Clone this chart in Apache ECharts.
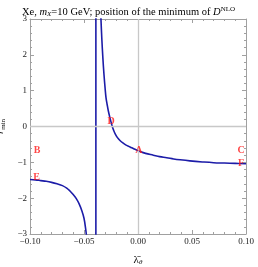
<!DOCTYPE html>
<html><head><meta charset="utf-8">
<script src="https://cdn.jsdelivr.net/npm/echarts@6/dist/echarts.min.js"></script>
<style>html,body{margin:0;padding:0;background:#fff}#c{width:258px;height:267px}</style>
</head><body><div id="c"></div>
<script>
// Left branch (lambda, r_min)
const leftLam = [-0.100, -0.095, -0.090, -0.085, -0.080, -0.075, -0.070, -0.066, -0.063, -0.060, -0.057, -0.0545, -0.052, -0.050, -0.0485, -0.047, -0.0455];
const leftR   = [-1.48, -1.49, -1.51, -1.53, -1.56, -1.60, -1.65, -1.72, -1.80, -1.90, -2.02, -2.16, -2.35, -2.56, -2.85, -3.25, -3.90];
// Right branch
const rightLam = [-0.0352, -0.0343, -0.0335, -0.0325, -0.0315, -0.0305, -0.0296, -0.0285, -0.0275, -0.0262, -0.0250, -0.0238, -0.0225, -0.0210, -0.0190, -0.0167, -0.0140, -0.0110, -0.0074, -0.0040, 0.0000, 0.0070, 0.0142, 0.0200, 0.0266, 0.0330, 0.0390, 0.0480, 0.0600, 0.0700, 0.0800, 0.0900, 0.1000];
const rightR   = [3.70, 3.00, 2.45, 1.90, 1.45, 1.08, 0.80, 0.60, 0.44, 0.27, 0.13, 0.00, -0.11, -0.21, -0.31, -0.39, -0.46, -0.52, -0.57, -0.62, -0.675, -0.75, -0.80, -0.84, -0.87, -0.905, -0.93, -0.96, -0.99, -1.01, -1.02, -1.03, -1.04];
// Vertical jump across the pole
const poleLam = [-0.039, -0.039];
const poleR = [-3.5, 3.5];
// Point labels
const ptNames = ['A', 'B', 'C', 'D', 'E', 'F'];
const ptLam = [0.0008, -0.0935, 0.0955, -0.0250, -0.0940, 0.0955];
const ptR = [-0.68, -0.68, -0.68, 0.15, -1.42, -1.02];
// Ticks
const xTicks = [-0.10, -0.05, 0.00, 0.05, 0.10];
const yTicks = [-3, -2, -1, 0, 1, 2, 3];

const zip = (a, b) => a.map((v, i) => [v, b[i]]);
const fmtMinus = s => s.replace('-', '\u2212');
const serif = 'Liberation Serif';
const frameCol = '#a0a0a0';
const blue = '#1c1ca8';

const chart = echarts.init(document.getElementById('c'), null, {renderer: 'canvas'});
const axisCommon = {
  axisLine: {show: true, onZero: false, lineStyle: {color: frameCol, width: 1}},
  axisTick: {show: true, inside: true, length: 4, lineStyle: {color: frameCol}},
  minorTick: {show: true, splitNumber: 5, length: 2, lineStyle: {color: frameCol}},
  splitLine: {show: false},
};
chart.setOption({
  animation: false,
  title: {
    text: '{n|Xe, }{i|m}{sub|X}{n|=10 GeV; position of the minimum of }{i|D}{sup|NLO}',
    left: 17, top: 1,
    textStyle: {
      fontWeight: 'normal',
      rich: {
        n: {fontFamily: serif, fontSize: 10.5, fontWeight: 'normal', color: '#000', lineHeight: 12},
        i: {fontFamily: serif, fontSize: 10.5, fontWeight: 'normal', fontStyle: 'italic', color: '#000', lineHeight: 12},
        sub: {fontFamily: serif, fontSize: 7, fontWeight: 'normal', fontStyle: 'italic', color: '#000', lineHeight: 6, verticalAlign: 'bottom'},
        sup: {fontFamily: serif, fontSize: 7, fontWeight: 'normal', color: '#000', lineHeight: 6, verticalAlign: 'top'}
      }
    }
  },
  grid: {left: 30, right: 12, top: 19, bottom: 33, containLabel: false, outerBoundsMode: 'none'},
  xAxis: [
    Object.assign({
      type: 'value', min: -0.1, max: 0.1, interval: 0.05, position: 'bottom',
      axisLabel: {fontFamily: serif, fontSize: 9, color: '#222', margin: 3,
        formatter: v => fmtMinus(v.toFixed(2))},
      name: '{b|\u03BB\u0304}{s|\u03B8}', nameLocation: 'middle', nameGap: 20,
      nameTextStyle: {rich: {
        b: {fontFamily: serif, fontSize: 11, color: '#000', lineHeight: 12},
        s: {fontFamily: serif, fontSize: 7, fontStyle: 'italic', color: '#000', lineHeight: 6, verticalAlign: 'bottom'}
      }}
    }, axisCommon),
    Object.assign({
      type: 'value', min: -0.1, max: 0.1, interval: 0.05, position: 'top',
      axisLabel: {show: false}
    }, axisCommon)
  ],
  yAxis: [
    Object.assign({
      type: 'value', min: -3, max: 3, interval: 1, position: 'left',
      axisLabel: {fontFamily: serif, fontSize: 9, color: '#222', margin: 3,
        formatter: v => fmtMinus(String(v))},
      name: '{i|r}{s|min}', nameLocation: 'middle', nameGap: 19, nameRotate: 90,
      nameTextStyle: {rich: {
        i: {fontFamily: serif, fontSize: 11, fontStyle: 'italic', color: '#000', lineHeight: 12},
        s: {fontFamily: serif, fontSize: 7, color: '#000', lineHeight: 6, verticalAlign: 'bottom'}
      }}
    }, axisCommon),
    Object.assign({
      type: 'value', min: -3, max: 3, interval: 1, position: 'right',
      axisLabel: {show: false}
    }, axisCommon)
  ],
  series: [
    {
      type: 'line', data: zip(leftLam, leftR), showSymbol: false, smooth: 0.4,
      lineStyle: {color: blue, width: 1.6}, clip: true, z: 3,
      markLine: {
        silent: true, symbol: 'none', label: {show: false},
        lineStyle: {color: '#c8c8c8', width: 1.3, type: 'solid'},
        data: [{xAxis: 0}, {yAxis: 0}]
      }
    },
    {
      type: 'line', data: zip(rightLam, rightR), showSymbol: false, smooth: 0.4,
      lineStyle: {color: blue, width: 1.6}, clip: true, z: 3
    },
    {
      type: 'line', data: zip(poleLam, poleR), showSymbol: false,
      lineStyle: {color: blue, width: 1.6}, clip: true, z: 3
    },
    {
      type: 'scatter', symbolSize: 0, z: 5,
      data: ptNames.map((n, i) => ({value: [ptLam[i], ptR[i]], name: n})),
      label: {show: true, position: 'inside', formatter: p => p.name,
        fontFamily: serif, fontWeight: 'bold', fontSize: 10, color: '#ff1a1a'}
    }
  ]
});
</script></body></html>
